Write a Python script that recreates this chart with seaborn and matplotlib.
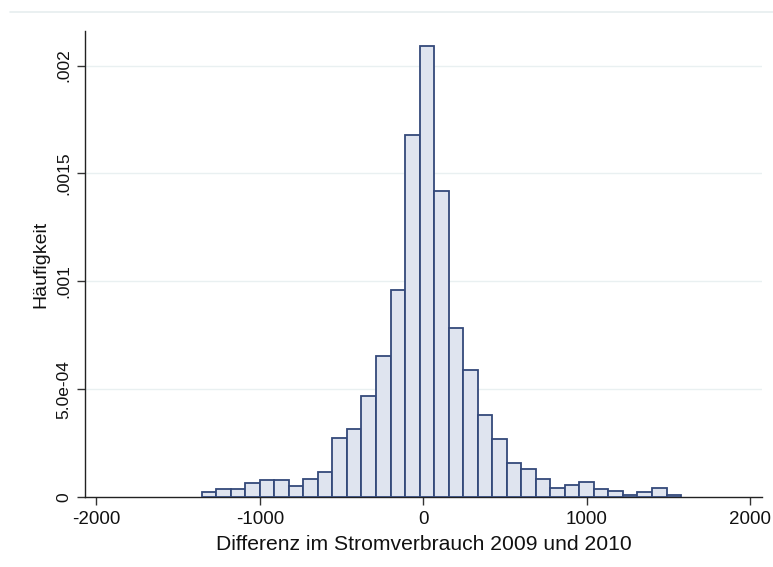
import numpy as np
import pandas as pd
import matplotlib
matplotlib.use("Agg")
import matplotlib.pyplot as plt
from matplotlib.lines import Line2D
import seaborn as sns

# histogram (density per bin)
bin_start = -1356
bin_width = 88.9
density = [2.3e-5, 3.7e-5, 3.7e-5, 6.5e-5, 7.9e-5, 7.9e-5, 5.1e-5, 8.3e-5,
           1.19e-4, 2.73e-4, 3.15e-4, 4.68e-4, 6.54e-4, 9.62e-4, 1.68e-3,
           2.09e-3, 1.417e-3, 7.84e-4, 5.91e-4, 3.81e-4, 2.72e-4, 1.6e-4,
           1.31e-4, 8.5e-5, 4.2e-5, 5.9e-5, 7.1e-5, 3.7e-5, 3.1e-5, 1.2e-5,
           2.5e-5, 4.2e-5, 1.2e-5]
x_ticks = [-2000, -1000, 0, 1000, 2000]
y_ticks = [0, 0.0005, 0.001, 0.0015, 0.002]
y_ticklabels = ["0", "5.0e-04", ".001", ".0015", ".002"]

edges = bin_start + bin_width * np.arange(len(density) + 1)
df = pd.DataFrame({"diff": (edges[:-1] + edges[1:]) / 2, "dens": density})

sns.set_style("white")
plt.rcParams['font.family'] = ['Liberation Sans', 'DejaVu Sans']

fig = plt.figure(figsize=(7.73, 5.67), dpi=100)
ax = fig.add_axes([85/773, 1 - 497.3/567, (762-85)/773, (497.3-31)/567])

sns.histplot(data=df, x="diff", weights="dens", bins=list(edges), stat="count",
             color="#DFE4EF", edgecolor="#34497A", linewidth=1.3, alpha=1,
             ax=ax, zorder=3)

ax.set_xlim(-2070, 2073)
ax.set_ylim(0, 0.00216)
ax.set_xticks(x_ticks)
ax.set_xticklabels([str(t) for t in x_ticks], fontsize=13.5)
ax.set_yticks(y_ticks)
ax.set_yticklabels(y_ticklabels, fontsize=12.5, rotation=90, va="center")

for y in y_ticks[1:]:
    ax.axhline(y, color="#E9F0F1", linewidth=1.0, zorder=1)

for s in ["top", "right"]:
    ax.spines[s].set_visible(False)
for s in ["left", "bottom"]:
    ax.spines[s].set_color("#222222")
    ax.spines[s].set_linewidth(1.0)
ax.tick_params(axis="both", direction="out", length=6, width=1, color="#333333",
               labelcolor="#111111", left=True, bottom=True, pad=4)

ax.set_xlabel("Differenz im Stromverbrauch 2009 und 2010", fontsize=15.2, color="#111111", labelpad=5)
ax.set_ylabel("Häufigkeit", fontsize=14, color="#111111", labelpad=5)

fig.add_artist(Line2D([10/773, 1], [1 - 12/567, 1 - 12/567], color="#E6EDEF", linewidth=1.2))

fig.savefig("out.png", dpi=100)
